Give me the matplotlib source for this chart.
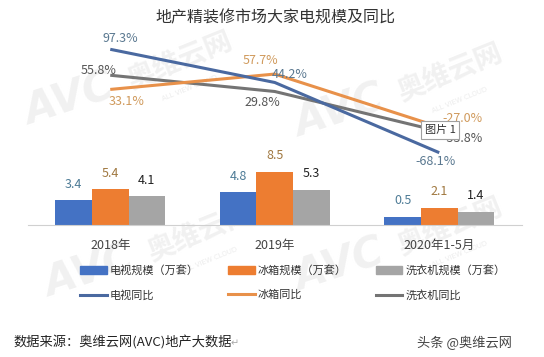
import matplotlib
matplotlib.use("Agg")
import matplotlib.pyplot as plt
from matplotlib.patches import Patch
from matplotlib.lines import Line2D
import numpy as np

plt.rcParams['font.family'] = ['Noto Sans CJK SC', 'DejaVu Sans']

# data
categories = ['2018年', '2019年', '2020年1-5月']
tv_scale = [3.4, 4.8, 0.5]
fridge_scale = [5.4, 8.5, 2.1]
washer_scale = [4.1, 5.3, 1.4]
tv_yoy = [97.3, 44.2, -68.1]
fridge_yoy = [33.1, 57.7, -27.0]
washer_yoy = [55.8, 29.8, -33.8]

bar_names = ['电视规模（万套）', '冰箱规模（万套）', '洗衣机规模（万套）']
line_names = ['电视同比', '冰箱同比', '洗衣机同比']

bar_colors = ['#4472C4', '#ED7D31', '#A5A5A5']
line_colors = ['#4a69a0', '#e8914a', '#747474']
bar_label_colors = ['#4d7b96', '#a07840', '#222222']
line_label_colors = ['#5a7890', '#d09a5c', '#555555']

W, H = 544, 357
fig = plt.figure(figsize=(W / 100, H / 100), dpi=100)
fig.patch.set_facecolor('white')


def px(x0, y0, x1, y1):
    # pixel box (top-left origin) -> figure rect
    return [x0 / W, 1 - y1 / H, (x1 - x0) / W, (y1 - y0) / H]


# faint watermark, kept behind the axes
def watermark(cx, cy):
    fig.text(cx / W, 1 - cy / H, 'AVC', fontsize=30, fontweight='bold', style='italic',
             color='#f1f1f1', rotation=18, ha='center', va='center', zorder=0,
             family='DejaVu Sans')
    fig.text((cx + 110) / W, 1 - (cy - 40) / H, '奥维云网', fontsize=20, fontweight='bold',
             color='#f1f1f1', rotation=22, ha='center', va='center', zorder=0)
    fig.text((cx + 120) / W, 1 - (cy - 12) / H, 'ALL VIEW CLOUD', fontsize=5,
             color='#ececec', rotation=22, ha='center', va='center', zorder=0,
             family='DejaVu Sans')


for c in [(70, 100), (340, 112), (90, 272), (340, 266)]:
    watermark(*c)

x = np.arange(len(categories))

# bar panel
axb = fig.add_axes(px(28, 150, 521.5, 225), zorder=1)
axb.patch.set_alpha(0)
floor = -1.0
bw = 0.223
series = [tv_scale, fridge_scale, washer_scale]
for i, vals in enumerate(series):
    vals = np.array(vals)
    xs = x + (i - 1) * bw
    axb.bar(xs, vals - floor, bottom=floor, width=bw, color=bar_colors[i], zorder=2)
    for xi, v in zip(xs, vals):
        axb.annotate(f'{v:.1f}', (xi, v), xytext=(0, 11.5), textcoords='offset points',
                     ha='center', va='center', fontsize=9, color=bar_label_colors[i])
axb.set_xlim(-0.5, 2.5)
axb.set_ylim(floor, 12.35)
axb.set_yticks([])
for s in ['top', 'right', 'left']:
    axb.spines[s].set_visible(False)
axb.spines['bottom'].set_color('#d0d0d0')
axb.set_xticks(x)
axb.set_xticklabels(categories, fontsize=9, color='#444444')
axb.tick_params(axis='x', length=0, pad=10)

# line panel
axl = fig.add_axes(px(28, 30, 521.5, 170), zorder=2)
axl.patch.set_alpha(0)
yoys = [tv_yoy, fridge_yoy, washer_yoy]
for i in [2, 1, 0]:
    axl.plot(x, yoys[i], color=line_colors[i], lw=2.2, solid_capstyle='butt',
             zorder=3, clip_on=False)

offsets = {
    0: [(7, 7.5), (10.8, 5.4), (-3, -6)],
    1: [(11.5, -9), (-10, 9.4), (16.6, 5.8)],
    2: [(-8.6, 3.6), (-8.6, -7.6), (16.6, -5)],
}
for i in range(3):
    for j, v in enumerate(yoys[i]):
        axl.annotate(f'{v:.1f}%', (x[j], v), xytext=offsets[i][j], textcoords='offset points',
                     ha='center', va='center', fontsize=9, color=line_label_colors[i], zorder=4)
axl.set_xlim(-0.5, 2.5)
axl.set_ylim(97.3 - 120.7 * 1.6, 97.3 + 19.3 * 1.6)
axl.axis('off')

# picture caption box (sits over the 2020 labels as in the source image)
fig.text(440 / W, 1 - 130 / H, '图片 1', fontsize=8, color='#333333', ha='center', va='center',
         zorder=10, bbox=dict(boxstyle='square,pad=0.35', fc='white', ec='#a0a0a0', lw=0.8))

# title
fig.text(275 / W, 1 - 18 / H, '地产精装修市场大家电规模及同比', fontsize=11.5, color='#333333',
         ha='center', va='center', zorder=5)

# legend
handles = []
for i in range(3):
    handles.append(Patch(color=bar_colors[i], label=bar_names[i]))
    handles.append(Line2D([], [], color=line_colors[i], lw=2.2, label=line_names[i]))
leg = fig.legend(handles=handles, ncol=3, loc='upper left', bbox_to_anchor=(80 / W, 1 - 265 / H),
                 frameon=False, fontsize=8, handlelength=2.4, handletextpad=0.3,
                 columnspacing=2.6, labelspacing=1.25, borderpad=0, borderaxespad=0,
                 labelcolor='#333333')
leg.set_zorder(5)

# footer
fig.text(13 / W, 1 - 343 / H, '数据来源：奥维云网(AVC)地产大数据', fontsize=9.5, color='#222222',
         ha='left', va='center', zorder=5)
fig.text(231 / W, 1 - 343 / H, '↵', fontsize=7, color='#aaaaaa', ha='left', va='center', zorder=5)
fig.text(512 / W, 1 - 343 / H, '头条 @奥维云网', fontsize=9.5, color='#444444',
         ha='right', va='center', zorder=5)

fig.savefig('out.png', dpi=100)
